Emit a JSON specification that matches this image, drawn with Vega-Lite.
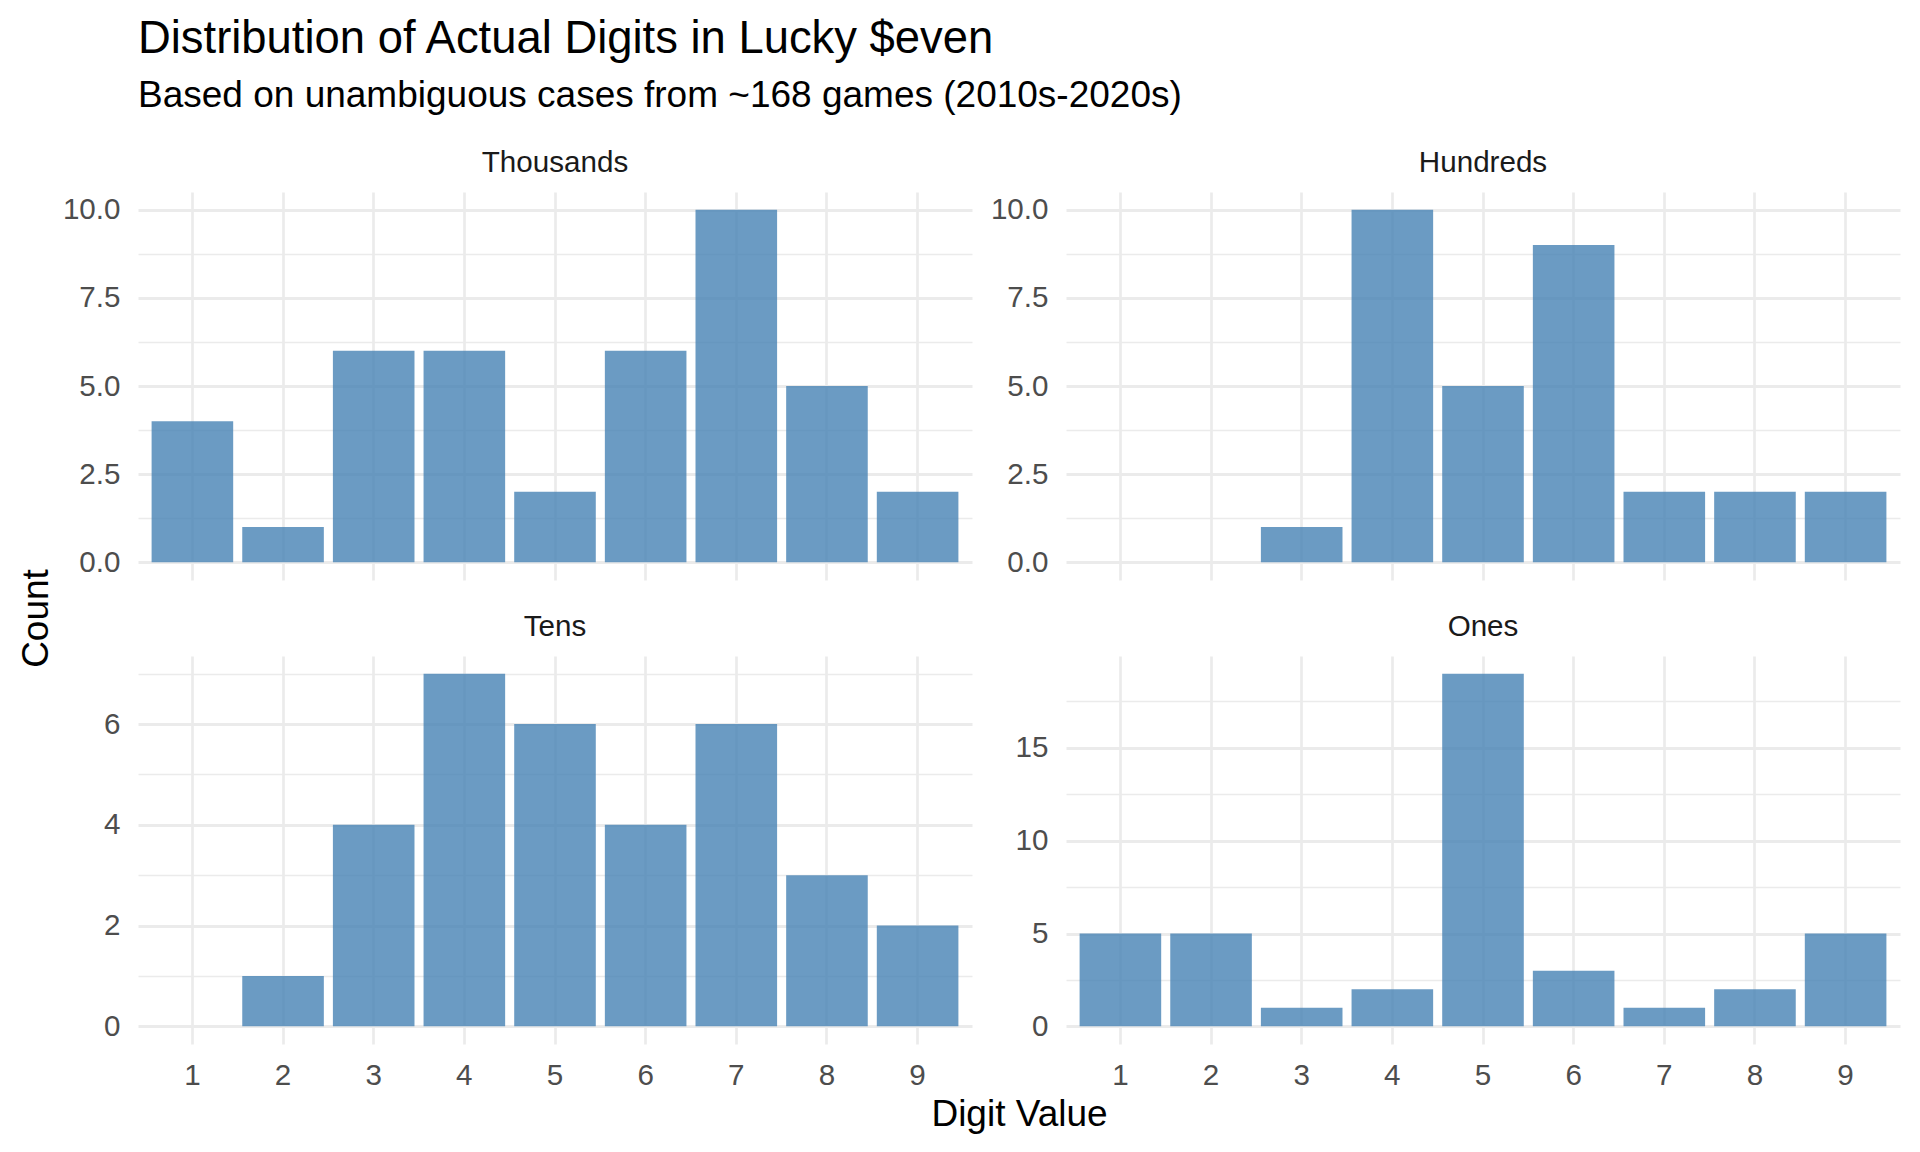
{
  "$schema": "https://vega.github.io/schema/vega-lite/v6.json",
  "background": "white",
  "padding": {"left": 17, "top": 17, "right": 20, "bottom": 10},
  "title": {
    "text": "Distribution of Actual Digits in Lucky $even",
    "subtitle": "Based on unambiguous cases from ~168 games (2010s-2020s)",
    "anchor": "start",
    "frame": "group",
    "font": "Liberation Sans",
    "fontSize": 45.4,
    "fontWeight": "normal",
    "color": "#000000",
    "subtitleFont": "Liberation Sans",
    "subtitleFontSize": 37,
    "subtitleColor": "#000000",
    "subtitlePadding": 16,
    "offset": 34
  },
  "data": {
    "values": [
      {"place": "Thousands", "digit": 1, "count": 4},
      {"place": "Thousands", "digit": 2, "count": 1},
      {"place": "Thousands", "digit": 3, "count": 6},
      {"place": "Thousands", "digit": 4, "count": 6},
      {"place": "Thousands", "digit": 5, "count": 2},
      {"place": "Thousands", "digit": 6, "count": 6},
      {"place": "Thousands", "digit": 7, "count": 10},
      {"place": "Thousands", "digit": 8, "count": 5},
      {"place": "Thousands", "digit": 9, "count": 2},
      {"place": "Hundreds", "digit": 3, "count": 1},
      {"place": "Hundreds", "digit": 4, "count": 10},
      {"place": "Hundreds", "digit": 5, "count": 5},
      {"place": "Hundreds", "digit": 6, "count": 9},
      {"place": "Hundreds", "digit": 7, "count": 2},
      {"place": "Hundreds", "digit": 8, "count": 2},
      {"place": "Hundreds", "digit": 9, "count": 2},
      {"place": "Tens", "digit": 2, "count": 1},
      {"place": "Tens", "digit": 3, "count": 4},
      {"place": "Tens", "digit": 4, "count": 7},
      {"place": "Tens", "digit": 5, "count": 6},
      {"place": "Tens", "digit": 6, "count": 4},
      {"place": "Tens", "digit": 7, "count": 6},
      {"place": "Tens", "digit": 8, "count": 3},
      {"place": "Tens", "digit": 9, "count": 2},
      {"place": "Ones", "digit": 1, "count": 5},
      {"place": "Ones", "digit": 2, "count": 5},
      {"place": "Ones", "digit": 3, "count": 1},
      {"place": "Ones", "digit": 4, "count": 2},
      {"place": "Ones", "digit": 5, "count": 19},
      {"place": "Ones", "digit": 6, "count": 3},
      {"place": "Ones", "digit": 7, "count": 1},
      {"place": "Ones", "digit": 8, "count": 2},
      {"place": "Ones", "digit": 9, "count": 5}
    ]
  },
  "columns": 2,
  "spacing": {"row": 76, "column": 94},
  "bounds": "flush",
  "concat": [
    {
      "width": 834, "height": 388,
      "title": {"text": "Thousands"},
      "transform": [{"filter": "datum.place === 'Thousands'"}],
      "mark": {"type": "bar", "color": "#4682B4", "opacity": 0.8},
      "encoding": {
        "x": {"field": "digit", "type": "ordinal",
              "scale": {"domain": [1,2,3,4,5,6,7,8,9], "paddingInner": 0.1, "paddingOuter": 0.15},
              "axis": {"labels": false, "title": null, "grid": true, "gridWidth": 2.7}},
        "y": {"field": "count", "type": "quantitative",
              "scale": {"domain": [-0.5, 10.5], "zero": false, "nice": false},
              "axis": {"values": [0, 1.25, 2.5, 3.75, 5, 6.25, 7.5, 8.75, 10],
                       "labelExpr": "datum.value % 2.5 === 0 ? format(datum.value, '.1f') : ''",
                       "gridWidth": {"condition": {"test": "datum.value % 2.5 === 0", "value": 3}, "value": 1.5},
                       "title": "Count", "titleX": -91, "titleY": 426, "titleAngle": 270,
                       "titleAlign": "center", "titleBaseline": "alphabetic"}},
        "y2": {"datum": 0}
      }
    },
    {
      "width": 834, "height": 388,
      "title": {"text": "Hundreds"},
      "transform": [{"filter": "datum.place === 'Hundreds'"}],
      "mark": {"type": "bar", "color": "#4682B4", "opacity": 0.8},
      "encoding": {
        "x": {"field": "digit", "type": "ordinal",
              "scale": {"domain": [1,2,3,4,5,6,7,8,9], "paddingInner": 0.1, "paddingOuter": 0.15},
              "axis": {"labels": false, "title": null, "grid": true, "gridWidth": 2.7}},
        "y": {"field": "count", "type": "quantitative",
              "scale": {"domain": [-0.5, 10.5], "zero": false, "nice": false},
              "axis": {"values": [0, 1.25, 2.5, 3.75, 5, 6.25, 7.5, 8.75, 10],
                       "labelExpr": "datum.value % 2.5 === 0 ? format(datum.value, '.1f') : ''",
                       "gridWidth": {"condition": {"test": "datum.value % 2.5 === 0", "value": 3}, "value": 1.5},
                       "title": null}},
        "y2": {"datum": 0}
      }
    },
    {
      "width": 834, "height": 388,
      "title": {"text": "Tens"},
      "transform": [{"filter": "datum.place === 'Tens'"}],
      "mark": {"type": "bar", "color": "#4682B4", "opacity": 0.8},
      "encoding": {
        "x": {"field": "digit", "type": "ordinal",
              "scale": {"domain": [1,2,3,4,5,6,7,8,9], "paddingInner": 0.1, "paddingOuter": 0.15},
              "axis": {"labelAngle": 0, "grid": true, "gridWidth": 2.7,
                       "title": "Digit Value", "titleX": 881, "titleY": 81, "titleAlign": "center",
                       "titleBaseline": "alphabetic", "titleAngle": 0}},
        "y": {"field": "count", "type": "quantitative",
              "scale": {"domain": [-0.35, 7.35], "zero": false, "nice": false},
              "axis": {"values": [0, 1, 2, 3, 4, 5, 6, 7],
                       "labelExpr": "datum.value % 2 === 0 ? datum.label : ''",
                       "gridWidth": {"condition": {"test": "datum.value % 2 === 0", "value": 3}, "value": 1.5},
                       "title": null}},
        "y2": {"datum": 0}
      }
    },
    {
      "width": 834, "height": 388,
      "title": {"text": "Ones"},
      "transform": [{"filter": "datum.place === 'Ones'"}],
      "mark": {"type": "bar", "color": "#4682B4", "opacity": 0.8},
      "encoding": {
        "x": {"field": "digit", "type": "ordinal",
              "scale": {"domain": [1,2,3,4,5,6,7,8,9], "paddingInner": 0.1, "paddingOuter": 0.15},
              "axis": {"labelAngle": 0, "grid": true, "gridWidth": 2.7, "title": null}},
        "y": {"field": "count", "type": "quantitative",
              "scale": {"domain": [-0.95, 19.95], "zero": false, "nice": false},
              "axis": {"values": [0, 2.5, 5, 7.5, 10, 12.5, 15, 17.5],
                       "labelExpr": "datum.value % 5 === 0 ? datum.label : ''",
                       "gridWidth": {"condition": {"test": "datum.value % 5 === 0", "value": 3}, "value": 1.5},
                       "title": null}},
        "y2": {"datum": 0}
      }
    }
  ],
  "config": {
    "font": "Liberation Sans",
    "view": {"stroke": null},
    "axis": {
      "domain": false,
      "ticks": false,
      "tickSize": 0,
      "gridColor": "#EBEBEB",
      "labelFont": "Liberation Sans",
      "labelFontSize": 29.6,
      "labelColor": "#4D4D4D",
      "titleFont": "Liberation Sans",
      "titleFontSize": 37,
      "titleFontWeight": "normal",
      "titleColor": "#000000"
    },
    "axisX": {"labelPadding": 17},
    "axisY": {"labelPadding": 18},
    "title": {
      "font": "Liberation Sans",
      "fontSize": 29.6,
      "fontWeight": "normal",
      "color": "#1A1A1A",
      "anchor": "middle",
      "baseline": "alphabetic",
      "offset": 13
    }
  }
}
